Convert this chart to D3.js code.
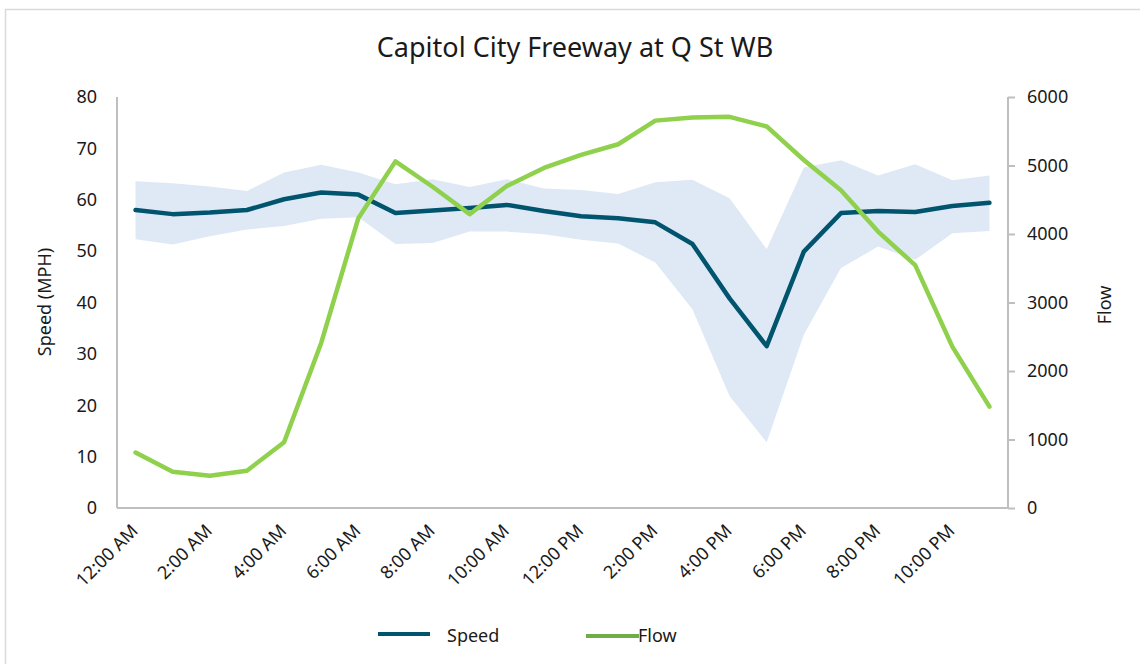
<!DOCTYPE html>
<html>
<head>
<meta charset="utf-8">
<script src="https://cdn.jsdelivr.net/npm/d3@7"></script>
<style>
  body { margin: 0; background: #fff; }
  svg text { font-family: "Noto Sans", Lato, sans-serif; fill: #1a1a1a; }
</style>
</head>
<body>
<div class="chart"></div>
<script>
// hours of the day
const hours = ['12:00 AM','1:00 AM','2:00 AM','3:00 AM','4:00 AM','5:00 AM','6:00 AM','7:00 AM',
  '8:00 AM','9:00 AM','10:00 AM','11:00 AM','12:00 PM','1:00 PM','2:00 PM','3:00 PM',
  '4:00 PM','5:00 PM','6:00 PM','7:00 PM','8:00 PM','9:00 PM','10:00 PM','11:00 PM'];
// average speed (MPH)
const speed = [58.0,57.2,57.5,58.0,60.1,61.4,61.0,57.4,57.9,58.4,59.0,57.8,
  56.8,56.4,55.6,51.4,40.8,31.5,49.9,57.4,57.8,57.6,58.8,59.4];
// speed range (upper / lower band)
const speedHigh = [63.6,63.2,62.6,61.7,65.3,66.8,65.3,63.0,64.0,62.5,64.0,62.2,
  61.9,61.1,63.4,63.9,60.3,50.4,66.3,67.7,64.7,66.9,63.8,64.7];
const speedLow = [52.3,51.3,52.9,54.2,54.9,56.3,56.6,51.4,51.6,53.8,53.8,53.3,
  52.2,51.5,47.8,38.7,21.8,12.8,33.7,46.7,50.9,48.3,53.5,53.9];
// flow (veh/hr)
const flow = [810,530,470,545,960,2410,4230,5060,4690,4290,4700,4965,
  5155,5310,5655,5700,5710,5570,5080,4640,4035,3545,2355,1480];

const leftTicks = [0,10,20,30,40,50,60,70,80];
const rightTicks = [0,1000,2000,3000,4000,5000,6000];

const W = 1140, H = 664;
const margin = {top: 97, right: 132, bottom: 156, left: 117};
const innerW = W - margin.left - margin.right;
const innerH = H - margin.top - margin.bottom;

const svg = d3.select('.chart').append('svg').attr('width', W).attr('height', H);

// outer frame
svg.append('rect').attr('x', 5.5).attr('y', 9.5).attr('width', W + 10).attr('height', H + 10)
  .attr('fill', 'none').attr('stroke', '#d9d9d9').attr('stroke-width', 1.5);

svg.append('text').attr('x', 575).attr('y', 57).attr('text-anchor', 'middle')
  .style('font-size', '27px').text('Capitol City Freeway at Q St WB');

const g = svg.append('g').attr('transform', `translate(${margin.left},${margin.top})`);

const x = d3.scalePoint().domain(hours).range([0, innerW]).padding(0.5);
const yL = d3.scaleLinear().domain([0, 80]).range([innerH, 0]);
const yR = d3.scaleLinear().domain([0, 6000]).range([innerH, 0]);

const rows = hours.map((h, i) => ({h, s: speed[i], hi: speedHigh[i], lo: speedLow[i], f: flow[i]}));

// band
g.append('path').datum(rows)
  .attr('d', d3.area().x(d => x(d.h)).y0(d => yL(d.lo)).y1(d => yL(d.hi)))
  .attr('fill', '#dee9f5');

// axes
const axisColor = '#bfbfbf';
const leftAxis = g.append('g')
  .call(d3.axisLeft(yL).tickValues(leftTicks).tickSize(0).tickPadding(20));
const rightAxis = g.append('g').attr('transform', `translate(${innerW},0)`)
  .call(d3.axisRight(yR).tickValues(rightTicks).tickFormat(d3.format('d')).tickSize(7).tickPadding(12));
const bottomAxis = g.append('g').attr('transform', `translate(0,${innerH})`)
  .call(d3.axisBottom(x).tickValues(hours.filter((h, i) => i % 2 === 0)).tickSize(0));

[leftAxis, rightAxis, bottomAxis].forEach(a => {
  a.select('.domain').attr('stroke', axisColor).attr('stroke-width', 2);
  a.selectAll('.tick line').attr('stroke', axisColor).attr('stroke-width', 2);
  a.selectAll('text').style('font-size', '18px').attr('fill', '#1a1a1a')
    .style('font-family', '"Noto Sans", Lato, sans-serif');
});
bottomAxis.select('.domain').attr('d', `M0,0H${innerW}`);
leftAxis.select('.domain').attr('d', `M0,0V${innerH}`);
rightAxis.select('.domain').attr('d', `M0,0V${innerH}`);
bottomAxis.selectAll('text')
  .attr('text-anchor', 'end')
  .attr('dy', null).attr('y', 0)
  .attr('transform', 'translate(3,24) rotate(-45)');

// axis titles
svg.append('text').attr('transform', 'translate(51,302) rotate(-90)')
  .attr('text-anchor', 'middle').style('font-size', '18px').text('Speed (MPH)');
svg.append('text').attr('transform', 'translate(1111,305) rotate(-90)')
  .attr('text-anchor', 'middle').style('font-size', '18px').text('Flow');

// lines
g.append('path').datum(rows)
  .attr('d', d3.line().x(d => x(d.h)).y(d => yL(d.s)))
  .attr('fill', 'none').attr('stroke', '#00546e').attr('stroke-width', 4.5)
  .attr('stroke-linecap', 'round').attr('stroke-linejoin', 'round');
g.append('path').datum(rows)
  .attr('d', d3.line().x(d => x(d.h)).y(d => yR(d.f)))
  .attr('fill', 'none').attr('stroke', '#8fd04c').attr('stroke-width', 4.5)
  .attr('stroke-linecap', 'round').attr('stroke-linejoin', 'round');

// legend
const legend = svg.append('g');
legend.append('line').attr('x1', 378).attr('x2', 430).attr('y1', 634).attr('y2', 634)
  .attr('stroke', '#00546e').attr('stroke-width', 4);
legend.append('text').attr('x', 447).attr('y', 642).style('font-size', '18px').text('Speed');
legend.append('line').attr('x1', 586).attr('x2', 639).attr('y1', 636).attr('y2', 636)
  .attr('stroke', '#70ad47').attr('stroke-width', 4);
legend.append('text').attr('x', 638).attr('y', 642).style('font-size', '18px').text('Flow');
</script>
</body>
</html>
